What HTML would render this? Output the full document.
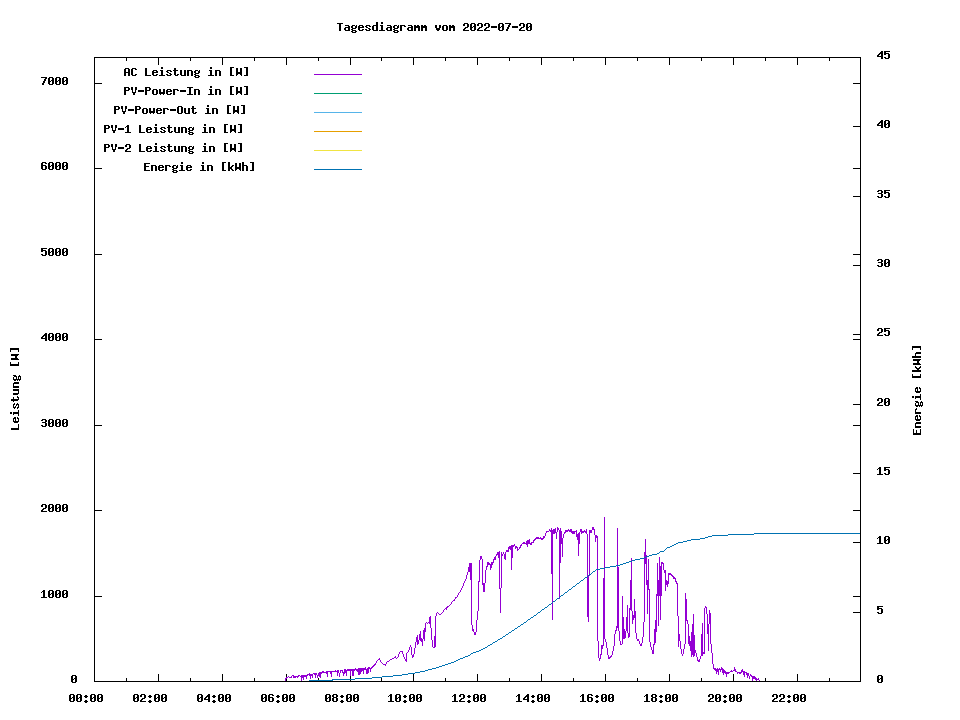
<!DOCTYPE html>
<html><head><meta charset="utf-8"><title>Tagesdiagramm</title>
<style>
html,body{margin:0;padding:0;background:#fff;}
svg{display:block}
</style></head><body>
<svg width="960" height="720" viewBox="0 0 960 720" shape-rendering="crispEdges">
<rect width="960" height="720" fill="#fff"/>
<rect x="94" y="674" width="1" height="8" fill="#000"/>
<rect x="94" y="57" width="1" height="8" fill="#000"/>
<rect x="126" y="678" width="1" height="4" fill="#000"/>
<rect x="126" y="57" width="1" height="4" fill="#000"/>
<rect x="158" y="674" width="1" height="8" fill="#000"/>
<rect x="158" y="57" width="1" height="8" fill="#000"/>
<rect x="190" y="678" width="1" height="4" fill="#000"/>
<rect x="190" y="57" width="1" height="4" fill="#000"/>
<rect x="222" y="674" width="1" height="8" fill="#000"/>
<rect x="222" y="57" width="1" height="8" fill="#000"/>
<rect x="254" y="678" width="1" height="4" fill="#000"/>
<rect x="254" y="57" width="1" height="4" fill="#000"/>
<rect x="286" y="674" width="1" height="8" fill="#000"/>
<rect x="286" y="57" width="1" height="8" fill="#000"/>
<rect x="318" y="678" width="1" height="4" fill="#000"/>
<rect x="318" y="57" width="1" height="4" fill="#000"/>
<rect x="350" y="674" width="1" height="8" fill="#000"/>
<rect x="350" y="57" width="1" height="8" fill="#000"/>
<rect x="381" y="678" width="1" height="4" fill="#000"/>
<rect x="381" y="57" width="1" height="4" fill="#000"/>
<rect x="413" y="674" width="1" height="8" fill="#000"/>
<rect x="413" y="57" width="1" height="8" fill="#000"/>
<rect x="445" y="678" width="1" height="4" fill="#000"/>
<rect x="445" y="57" width="1" height="4" fill="#000"/>
<rect x="477" y="674" width="1" height="8" fill="#000"/>
<rect x="477" y="57" width="1" height="8" fill="#000"/>
<rect x="509" y="678" width="1" height="4" fill="#000"/>
<rect x="509" y="57" width="1" height="4" fill="#000"/>
<rect x="541" y="674" width="1" height="8" fill="#000"/>
<rect x="541" y="57" width="1" height="8" fill="#000"/>
<rect x="573" y="678" width="1" height="4" fill="#000"/>
<rect x="573" y="57" width="1" height="4" fill="#000"/>
<rect x="605" y="674" width="1" height="8" fill="#000"/>
<rect x="605" y="57" width="1" height="8" fill="#000"/>
<rect x="637" y="678" width="1" height="4" fill="#000"/>
<rect x="637" y="57" width="1" height="4" fill="#000"/>
<rect x="669" y="674" width="1" height="8" fill="#000"/>
<rect x="669" y="57" width="1" height="8" fill="#000"/>
<rect x="701" y="678" width="1" height="4" fill="#000"/>
<rect x="701" y="57" width="1" height="4" fill="#000"/>
<rect x="733" y="674" width="1" height="8" fill="#000"/>
<rect x="733" y="57" width="1" height="8" fill="#000"/>
<rect x="765" y="678" width="1" height="4" fill="#000"/>
<rect x="765" y="57" width="1" height="4" fill="#000"/>
<rect x="797" y="674" width="1" height="8" fill="#000"/>
<rect x="797" y="57" width="1" height="8" fill="#000"/>
<rect x="829" y="678" width="1" height="4" fill="#000"/>
<rect x="829" y="57" width="1" height="4" fill="#000"/>
<rect x="94" y="681" width="8" height="1" fill="#000"/>
<rect x="853" y="681" width="8" height="1" fill="#000"/>
<rect x="94" y="596" width="8" height="1" fill="#000"/>
<rect x="853" y="596" width="8" height="1" fill="#000"/>
<rect x="94" y="510" width="8" height="1" fill="#000"/>
<rect x="853" y="510" width="8" height="1" fill="#000"/>
<rect x="94" y="425" width="8" height="1" fill="#000"/>
<rect x="853" y="425" width="8" height="1" fill="#000"/>
<rect x="94" y="339" width="8" height="1" fill="#000"/>
<rect x="853" y="339" width="8" height="1" fill="#000"/>
<rect x="94" y="254" width="8" height="1" fill="#000"/>
<rect x="853" y="254" width="8" height="1" fill="#000"/>
<rect x="94" y="168" width="8" height="1" fill="#000"/>
<rect x="853" y="168" width="8" height="1" fill="#000"/>
<rect x="94" y="83" width="8" height="1" fill="#000"/>
<rect x="853" y="83" width="8" height="1" fill="#000"/>
<rect x="853" y="681" width="8" height="1" fill="#000"/>
<rect x="853" y="612" width="8" height="1" fill="#000"/>
<rect x="853" y="542" width="8" height="1" fill="#000"/>
<rect x="853" y="473" width="8" height="1" fill="#000"/>
<rect x="853" y="404" width="8" height="1" fill="#000"/>
<rect x="853" y="334" width="8" height="1" fill="#000"/>
<rect x="853" y="265" width="8" height="1" fill="#000"/>
<rect x="853" y="196" width="8" height="1" fill="#000"/>
<rect x="853" y="126" width="8" height="1" fill="#000"/>
<rect x="853" y="57" width="8" height="1" fill="#000"/>
<rect x="314" y="74" width="48" height="1" fill="#9400d3"/>
<rect x="314" y="93" width="48" height="1" fill="#009e73"/>
<rect x="314" y="112" width="48" height="1" fill="#56b4e9"/>
<rect x="314" y="131" width="48" height="1" fill="#e69f00"/>
<rect x="314" y="150" width="48" height="1" fill="#f0e442"/>
<rect x="314" y="169" width="48" height="1" fill="#0072b2"/>
<path d="M285 678h1v3h-1zM286 677h1v2h-1zM287 677h1v1h-1zM288 676h1v1h-1zM289 677h2v1h-2zM291 676h1v2h-1zM292 675h1v1h-1zM293 675h1v3h-1zM294 676h2v2h-2zM296 676h1v1h-1zM297 676h1v2h-1zM298 675h1v2h-1zM299 675h1v1h-1zM300 676h1v1h-1zM301 675h1v6h-1zM302 675h1v3h-1zM303 675h1v5h-1zM304 675h2v2h-2zM306 675h1v4h-1zM307 674h1v2h-1zM308 674h1v1h-1zM309 673h1v3h-1zM310 674h1v5h-1zM311 674h1v2h-1zM312 674h1v4h-1zM313 673h1v1h-1zM314 673h1v2h-1zM315 673h1v5h-1zM316 673h1v2h-1zM317 675h1v3h-1zM318 673h1v3h-1zM319 672h1v5h-1zM320 672h1v6h-1zM321 672h1v2h-1zM322 671h2v2h-2zM324 672h2v1h-2zM326 671h1v3h-1zM327 671h1v6h-1zM328 671h2v1h-2zM330 671h1v3h-1zM331 671h1v6h-1zM332 671h3v1h-3zM335 670h1v2h-1zM336 671h1v1h-1zM337 670h1v6h-1zM338 670h1v3h-1zM339 673h1v4h-1zM340 670h1v3h-1zM341 670h1v1h-1zM342 670h1v3h-1zM343 672h1v4h-1zM344 669h1v5h-1zM345 669h1v4h-1zM346 670h1v6h-1zM347 669h3v2h-3zM350 669h1v7h-1zM351 669h1v2h-1zM352 669h2v7h-2zM354 669h1v2h-1zM355 668h1v2h-1zM356 669h1v2h-1zM357 669h1v3h-1zM358 668h2v7h-2zM360 668h1v6h-1zM361 668h1v4h-1zM362 668h1v3h-1zM363 668h1v6h-1zM364 668h1v2h-1zM365 667h1v3h-1zM366 669h1v5h-1zM367 668h1v6h-1zM368 667h1v6h-1zM369 667h1v2h-1zM370 668h1v4h-1zM371 667h1v2h-1zM372 666h1v2h-1zM373 665h1v2h-1zM374 664h1v2h-1zM375 663h1v2h-1zM376 661h1v2h-1zM377 660h1v1h-1zM378 659h1v1h-1zM379 658h1v2h-1zM380 660h1v2h-1zM381 662h1v1h-1zM382 663h1v1h-1zM383 664h2v1h-2zM385 664h1v2h-1zM386 662h1v2h-1zM387 661h2v1h-2zM389 660h1v1h-1zM390 659h2v1h-2zM392 658h2v1h-2zM394 657h1v1h-1zM395 656h1v2h-1zM396 658h1v1h-1zM397 657h1v1h-1zM398 654h1v3h-1zM399 652h1v2h-1zM400 651h2v1h-2zM402 651h1v3h-1zM403 654h1v3h-1zM404 657h1v2h-1zM405 659h1v2h-1zM406 653h1v9h-1zM407 652h1v1h-1zM408 650h1v2h-1zM409 647h1v3h-1zM410 645h1v2h-1zM411 647h1v8h-1zM412 655h1v3h-1zM413 654h1v3h-1zM414 648h1v6h-1zM415 642h1v6h-1zM416 637h1v5h-1zM417 635h1v10h-1zM418 640h1v4h-1zM419 634h1v6h-1zM420 631h1v10h-1zM421 638h1v4h-1zM422 639h1v7h-1zM423 630h1v9h-1zM424 628h1v13h-1zM425 623h1v9h-1zM426 622h1v1h-1zM427 623h1v1h-1zM428 622h1v1h-1zM429 617h1v7h-1zM430 616h1v12h-1zM431 628h1v12h-1zM432 640h1v7h-1zM433 647h1v1h-1zM434 636h1v12h-1zM435 616h1v31h-1zM436 613h1v3h-1zM437 612h1v1h-1zM438 613h1v1h-1zM439 614h2v1h-2zM441 613h1v1h-1zM442 612h1v1h-1zM443 610h1v2h-1zM444 609h1v1h-1zM445 608h1v1h-1zM446 607h1v3h-1zM447 606h1v2h-1zM448 606h1v1h-1zM449 605h1v1h-1zM450 604h1v1h-1zM451 602h1v2h-1zM452 601h1v1h-1zM453 600h1v1h-1zM454 599h1v2h-1zM455 597h1v2h-1zM456 597h1v1h-1zM457 595h1v2h-1zM458 593h1v2h-1zM459 592h1v1h-1zM460 590h1v2h-1zM461 588h1v2h-1zM462 586h1v2h-1zM463 583h1v3h-1zM464 581h1v2h-1zM465 579h1v2h-1zM466 575h1v4h-1zM467 572h1v3h-1zM468 567h1v5h-1zM469 563h1v9h-1zM470 563h1v17h-1zM471 563h1v62h-1zM472 625h1v6h-1zM473 629h1v3h-1zM474 632h2v3h-2zM476 620h1v12h-1zM477 611h1v9h-1zM478 581h1v30h-1zM479 560h1v22h-1zM480 556h1v4h-1zM481 556h1v3h-1zM482 559h1v26h-1zM483 583h2v9h-2zM485 570h1v13h-1zM486 566h1v4h-1zM487 562h1v5h-1zM488 562h1v3h-1zM489 563h1v2h-1zM490 564h1v6h-1zM491 562h1v6h-1zM492 562h1v3h-1zM493 559h1v4h-1zM494 557h1v3h-1zM495 556h1v4h-1zM496 554h1v2h-1zM497 552h1v3h-1zM498 552h1v6h-1zM499 551h1v38h-1zM500 588h1v25h-1zM501 552h1v36h-1zM502 554h1v2h-1zM503 552h1v2h-1zM504 554h1v5h-1zM505 552h1v8h-1zM506 550h2v2h-2zM508 547h1v5h-1zM509 546h1v3h-1zM510 546h1v4h-1zM511 545h1v25h-1zM512 545h1v13h-1zM513 545h1v2h-1zM514 544h1v2h-1zM515 546h1v3h-1zM516 546h1v2h-1zM517 547h1v4h-1zM518 549h1v1h-1zM519 547h1v2h-1zM520 545h1v3h-1zM521 544h1v2h-1zM522 543h1v1h-1zM523 542h2v2h-2zM525 543h1v1h-1zM526 541h1v4h-1zM527 540h1v7h-1zM528 540h1v4h-1zM529 539h1v5h-1zM530 543h1v2h-1zM531 542h1v3h-1zM532 542h1v1h-1zM533 540h1v3h-1zM534 539h1v2h-1zM535 538h1v2h-1zM536 537h3v2h-3zM539 538h1v1h-1zM540 537h1v2h-1zM541 538h2v2h-2zM543 536h1v3h-1zM544 536h1v2h-1zM545 533h1v3h-1zM546 531h1v2h-1zM547 531h2v1h-2zM549 529h1v2h-1zM550 530h1v2h-1zM551 528h1v46h-1zM552 530h1v90h-1zM553 529h2v5h-2zM555 528h1v5h-1zM556 532h1v7h-1zM557 527h1v5h-1zM558 528h1v2h-1zM559 530h1v69h-1zM560 528h1v35h-1zM561 531h1v13h-1zM562 538h1v19h-1zM563 534h1v4h-1zM564 532h1v2h-1zM565 530h1v3h-1zM566 530h2v2h-2zM568 529h1v2h-1zM569 530h1v2h-1zM570 529h1v3h-1zM571 529h1v4h-1zM572 531h3v3h-3zM575 531h1v1h-1zM576 530h1v7h-1zM577 534h1v6h-1zM578 533h1v23h-1zM579 532h1v12h-1zM580 529h1v3h-1zM581 529h1v5h-1zM582 531h2v2h-2zM584 530h1v2h-1zM585 531h1v2h-1zM586 529h1v5h-1zM587 534h1v83h-1zM588 575h1v47h-1zM589 530h1v46h-1zM590 530h2v3h-2zM592 527h2v3h-2zM594 529h1v6h-1zM595 535h1v7h-1zM596 535h1v3h-1zM597 536h1v105h-1zM598 641h1v17h-1zM599 658h1v3h-1zM600 654h1v5h-1zM601 645h1v10h-1zM602 645h1v4h-1zM603 578h1v68h-1zM604 517h1v122h-1zM605 639h1v3h-1zM606 642h1v6h-1zM607 648h1v7h-1zM608 655h1v4h-1zM609 657h1v2h-1zM610 656h1v2h-1zM611 655h1v2h-1zM612 651h1v4h-1zM613 646h1v5h-1zM614 634h1v12h-1zM615 630h1v4h-1zM616 626h1v5h-1zM617 528h1v100h-1zM618 567h1v64h-1zM619 631h1v10h-1zM620 641h1v4h-1zM621 644h1v1h-1zM622 596h1v48h-1zM623 617h1v22h-1zM624 629h1v10h-1zM625 631h1v7h-1zM626 617h1v14h-1zM627 605h1v28h-1zM628 633h1v5h-1zM629 608h1v29h-1zM630 580h1v30h-1zM631 558h1v53h-1zM632 611h1v13h-1zM633 615h1v5h-1zM634 599h1v19h-1zM635 611h1v22h-1zM636 633h1v6h-1zM637 639h2v2h-2zM639 641h1v3h-1zM640 644h1v2h-1zM641 643h1v3h-1zM642 637h1v6h-1zM643 622h1v15h-1zM644 552h1v70h-1zM645 539h1v25h-1zM646 555h1v30h-1zM647 580h1v34h-1zM648 559h1v31h-1zM649 589h1v53h-1zM650 642h1v5h-1zM651 647h1v3h-1zM652 650h1v4h-1zM653 644h1v10h-1zM654 629h1v16h-1zM655 620h1v23h-1zM656 594h1v38h-1zM657 563h1v33h-1zM658 580h1v46h-1zM659 557h1v39h-1zM660 566h1v54h-1zM661 562h1v34h-1zM662 562h1v2h-1zM663 563h1v7h-1zM664 570h1v3h-1zM665 570h1v21h-1zM666 580h1v5h-1zM667 581h1v6h-1zM668 573h1v11h-1zM669 573h2v2h-2zM671 574h1v2h-1zM672 575h1v2h-1zM673 576h1v3h-1zM674 577h1v2h-1zM675 578h1v4h-1zM676 581h1v3h-1zM677 583h1v33h-1zM678 616h1v31h-1zM679 634h1v7h-1zM680 641h1v8h-1zM681 649h1v5h-1zM682 654h1v2h-1zM683 649h1v5h-1zM684 644h1v5h-1zM685 593h1v51h-1zM686 599h1v22h-1zM687 620h1v4h-1zM688 624h1v20h-1zM689 636h1v10h-1zM690 641h1v10h-1zM691 632h1v25h-1zM692 624h1v31h-1zM693 614h1v43h-1zM694 635h1v21h-1zM695 650h1v3h-1zM696 653h1v4h-1zM697 657h1v4h-1zM698 660h1v2h-1zM699 659h1v3h-1zM700 656h1v3h-1zM701 634h1v22h-1zM702 623h1v33h-1zM703 652h1v2h-1zM704 608h1v46h-1zM705 606h1v2h-1zM706 607h1v7h-1zM707 614h1v20h-1zM708 624h1v27h-1zM709 610h1v14h-1zM710 613h1v31h-1zM711 644h1v9h-1zM712 653h1v11h-1zM713 664h1v5h-1zM714 668h1v2h-1zM715 668h1v3h-1zM716 669h1v5h-1zM717 668h1v4h-1zM718 669h1v6h-1zM719 668h1v2h-1zM720 669h1v3h-1zM721 667h1v3h-1zM722 668h1v5h-1zM723 669h1v6h-1zM724 670h1v3h-1zM725 671h1v3h-1zM726 672h1v5h-1zM727 672h2v2h-2zM729 672h1v1h-1zM730 671h1v1h-1zM731 670h1v2h-1zM732 671h1v1h-1zM733 670h1v1h-1zM734 667h1v4h-1zM735 669h1v3h-1zM736 671h1v1h-1zM737 672h1v2h-1zM738 672h1v1h-1zM739 672h2v2h-2zM741 670h1v3h-1zM742 669h1v3h-1zM743 671h1v4h-1zM744 671h1v6h-1zM745 672h1v1h-1zM746 672h1v3h-1zM747 673h1v5h-1zM748 673h1v3h-1zM749 676h1v3h-1zM750 674h1v2h-1zM751 675h1v2h-1zM752 676h1v5h-1zM753 676h2v3h-2zM755 677h1v3h-1zM756 678h1v3h-1zM757 679h1v1h-1zM758 678h1v2h-1zM759 680h1v1h-1z" fill="#9400d3"/>
<path d="M754 533h107v1h-107zM728 534h26v1h-26zM712 535h16v1h-16zM708 536h4v1h-4zM705 537h3v1h-3zM700 538h5v1h-5zM691 539h9v1h-9zM687 540h4v1h-4zM683 541h4v1h-4zM678 542h5v1h-5zM676 543h2v1h-2zM674 544h2v1h-2zM672 545h2v1h-2zM670 546h2v1h-2zM667 547h3v1h-3zM666 548h1v1h-1zM665 549h1v1h-1zM664 550h1v1h-1zM660 551h4v1h-4zM659 552h1v1h-1zM657 553h2v1h-2zM652 554h5v1h-5zM649 555h3v1h-3zM646 556h3v1h-3zM644 557h2v1h-2zM640 558h4v1h-4zM635 559h5v1h-5zM632 560h3v1h-3zM629 561h3v1h-3zM626 562h3v1h-3zM623 563h3v1h-3zM620 564h3v1h-3zM616 565h4v1h-4zM610 566h6v1h-6zM605 567h5v1h-5zM600 568h5v1h-5zM596 569h4v1h-4zM595 570h1v1h-1zM593 571h2v1h-2zM592 572h1v1h-1zM591 573h1v1h-1zM589 574h2v1h-2zM588 575h1v1h-1zM587 576h1v1h-1zM585 577h2v1h-2zM584 578h1v1h-1zM583 579h1v1h-1zM581 580h2v1h-2zM580 581h1v1h-1zM579 582h1v1h-1zM577 583h2v1h-2zM576 584h1v1h-1zM575 585h1v1h-1zM573 586h2v1h-2zM572 587h1v1h-1zM571 588h1v1h-1zM569 589h2v1h-2zM568 590h1v1h-1zM567 591h1v1h-1zM565 592h2v1h-2zM564 593h1v1h-1zM563 594h1v1h-1zM561 595h2v1h-2zM560 596h1v1h-1zM559 597h1v1h-1zM557 598h2v1h-2zM556 599h1v1h-1zM555 600h1v1h-1zM553 601h2v1h-2zM552 602h1v1h-1zM551 603h1v1h-1zM549 604h2v1h-2zM548 605h1v1h-1zM547 606h1v1h-1zM545 607h2v1h-2zM544 608h1v1h-1zM542 609h2v1h-2zM541 610h1v1h-1zM540 611h1v1h-1zM538 612h2v1h-2zM537 613h1v1h-1zM536 614h1v1h-1zM534 615h2v1h-2zM533 616h1v1h-1zM531 617h2v1h-2zM530 618h1v1h-1zM528 619h2v1h-2zM527 620h1v1h-1zM526 621h1v1h-1zM524 622h2v1h-2zM523 623h1v1h-1zM521 624h2v1h-2zM520 625h1v1h-1zM518 626h2v1h-2zM517 627h1v1h-1zM515 628h2v1h-2zM514 629h1v1h-1zM512 630h2v1h-2zM511 631h1v1h-1zM509 632h2v1h-2zM508 633h1v1h-1zM506 634h2v1h-2zM505 635h1v1h-1zM503 636h2v1h-2zM502 637h1v1h-1zM500 638h2v1h-2zM498 639h2v1h-2zM497 640h1v1h-1zM495 641h2v1h-2zM493 642h2v1h-2zM492 643h1v1h-1zM490 644h2v1h-2zM488 645h2v1h-2zM487 646h1v1h-1zM485 647h2v1h-2zM483 648h2v1h-2zM481 649h2v1h-2zM479 650h2v1h-2zM476 651h3v1h-3zM473 652h3v1h-3zM471 653h2v1h-2zM470 654h1v1h-1zM468 655h2v1h-2zM465 656h3v1h-3zM463 657h2v1h-2zM460 658h3v1h-3zM458 659h2v1h-2zM456 660h2v1h-2zM454 661h2v1h-2zM451 662h3v1h-3zM448 663h3v1h-3zM445 664h3v1h-3zM442 665h3v1h-3zM439 666h3v1h-3zM436 667h3v1h-3zM432 668h4v1h-4zM428 669h4v1h-4zM425 670h3v1h-3zM420 671h5v1h-5zM415 672h5v1h-5zM408 673h7v1h-7zM402 674h6v1h-6zM393 675h9v1h-9zM382 676h11v1h-11zM372 677h10v1h-10zM355 678h17v1h-17zM332 679h23v1h-23zM309 680h24v1h-24z" fill="#0072b2"/>
<rect x="94" y="57" width="767" height="1" fill="#000"/>
<rect x="94" y="681" width="767" height="1" fill="#000"/>
<rect x="94" y="57" width="1" height="625" fill="#000"/>
<rect x="860" y="57" width="1" height="625" fill="#000"/>
<defs><path id="g45" d="M0 6h6v1h-6zM0 7h6v1h-6z"/><path id="g48" d="M1 3h4v1h-4zM0 4h2v1h-2zM4 4h2v1h-2zM0 5h2v1h-2zM4 5h2v1h-2zM0 6h2v1h-2zM3 6h3v1h-3zM0 7h3v1h-3zM4 7h2v1h-2zM0 8h2v1h-2zM4 8h2v1h-2zM0 9h2v1h-2zM4 9h2v1h-2zM1 10h4v1h-4z"/><path id="g49" d="M2 3h2v1h-2zM1 4h3v1h-3zM0 5h1v1h-1zM2 5h2v1h-2zM2 6h2v1h-2zM2 7h2v1h-2zM2 8h2v1h-2zM2 9h2v1h-2zM0 10h6v1h-6z"/><path id="g50" d="M1 3h4v1h-4zM0 4h2v1h-2zM4 4h2v1h-2zM0 5h2v1h-2zM4 5h2v1h-2zM4 6h2v1h-2zM2 7h3v1h-3zM1 8h2v1h-2zM0 9h2v1h-2zM0 10h6v1h-6z"/><path id="g51" d="M1 3h4v1h-4zM0 4h2v1h-2zM4 4h2v1h-2zM4 5h2v1h-2zM1 6h4v1h-4zM4 7h2v1h-2zM4 8h2v1h-2zM0 9h2v1h-2zM4 9h2v1h-2zM1 10h4v1h-4z"/><path id="g52" d="M4 3h2v1h-2zM3 4h3v1h-3zM2 5h4v1h-4zM1 6h2v1h-2zM4 6h2v1h-2zM0 7h2v1h-2zM4 7h2v1h-2zM0 8h6v1h-6zM4 9h2v1h-2zM4 10h2v1h-2z"/><path id="g53" d="M0 3h6v1h-6zM0 4h2v1h-2zM0 5h5v1h-5zM0 6h2v1h-2zM4 6h2v1h-2zM4 7h2v1h-2zM4 8h2v1h-2zM0 9h2v1h-2zM4 9h2v1h-2zM1 10h4v1h-4z"/><path id="g54" d="M1 3h4v1h-4zM0 4h2v1h-2zM4 4h2v1h-2zM0 5h2v1h-2zM0 6h5v1h-5zM0 7h2v1h-2zM4 7h2v1h-2zM0 8h2v1h-2zM4 8h2v1h-2zM0 9h2v1h-2zM4 9h2v1h-2zM1 10h4v1h-4z"/><path id="g55" d="M0 3h6v1h-6zM4 4h2v1h-2zM3 5h2v1h-2zM3 6h2v1h-2zM2 7h2v1h-2zM2 8h2v1h-2zM1 9h2v1h-2zM1 10h2v1h-2z"/><path id="g56" d="M1 3h4v1h-4zM0 4h2v1h-2zM4 4h2v1h-2zM0 5h2v1h-2zM4 5h2v1h-2zM1 6h4v1h-4zM0 7h2v1h-2zM4 7h2v1h-2zM0 8h2v1h-2zM4 8h2v1h-2zM0 9h2v1h-2zM4 9h2v1h-2zM1 10h4v1h-4z"/><path id="g58" d="M2 4h2v1h-2zM1 5h4v1h-4zM2 6h2v1h-2zM2 9h2v1h-2zM1 10h4v1h-4zM2 11h2v1h-2z"/><path id="g65" d="M1 3h4v1h-4zM0 4h2v1h-2zM4 4h2v1h-2zM0 5h2v1h-2zM4 5h2v1h-2zM0 6h2v1h-2zM4 6h2v1h-2zM0 7h6v1h-6zM0 8h2v1h-2zM4 8h2v1h-2zM0 9h2v1h-2zM4 9h2v1h-2zM0 10h2v1h-2zM4 10h2v1h-2z"/><path id="g67" d="M1 3h4v1h-4zM0 4h2v1h-2zM4 4h2v1h-2zM0 5h2v1h-2zM0 6h2v1h-2zM0 7h2v1h-2zM0 8h2v1h-2zM0 9h2v1h-2zM4 9h2v1h-2zM1 10h4v1h-4z"/><path id="g69" d="M0 3h6v1h-6zM0 4h2v1h-2zM0 5h2v1h-2zM0 6h5v1h-5zM0 7h2v1h-2zM0 8h2v1h-2zM0 9h2v1h-2zM0 10h6v1h-6z"/><path id="g73" d="M0 3h6v1h-6zM2 4h2v1h-2zM2 5h2v1h-2zM2 6h2v1h-2zM2 7h2v1h-2zM2 8h2v1h-2zM2 9h2v1h-2zM0 10h6v1h-6z"/><path id="g76" d="M0 3h2v1h-2zM0 4h2v1h-2zM0 5h2v1h-2zM0 6h2v1h-2zM0 7h2v1h-2zM0 8h2v1h-2zM0 9h2v1h-2zM0 10h6v1h-6z"/><path id="g79" d="M1 3h4v1h-4zM0 4h2v1h-2zM4 4h2v1h-2zM0 5h2v1h-2zM4 5h2v1h-2zM0 6h2v1h-2zM4 6h2v1h-2zM0 7h2v1h-2zM4 7h2v1h-2zM0 8h2v1h-2zM4 8h2v1h-2zM0 9h2v1h-2zM4 9h2v1h-2zM1 10h4v1h-4z"/><path id="g80" d="M0 3h5v1h-5zM0 4h2v1h-2zM4 4h2v1h-2zM0 5h2v1h-2zM4 5h2v1h-2zM0 6h5v1h-5zM0 7h2v1h-2zM0 8h2v1h-2zM0 9h2v1h-2zM0 10h2v1h-2z"/><path id="g84" d="M0 3h6v1h-6zM2 4h2v1h-2zM2 5h2v1h-2zM2 6h2v1h-2zM2 7h2v1h-2zM2 8h2v1h-2zM2 9h2v1h-2zM2 10h2v1h-2z"/><path id="g86" d="M0 3h2v1h-2zM4 3h2v1h-2zM0 4h2v1h-2zM4 4h2v1h-2zM0 5h2v1h-2zM4 5h2v1h-2zM1 6h1v1h-1zM4 6h1v1h-1zM1 7h1v1h-1zM4 7h1v1h-1zM1 8h4v1h-4zM2 9h2v1h-2zM2 10h2v1h-2z"/><path id="g87" d="M0 3h2v1h-2zM4 3h2v1h-2zM0 4h2v1h-2zM4 4h2v1h-2zM0 5h2v1h-2zM4 5h2v1h-2zM0 6h2v1h-2zM4 6h2v1h-2zM0 7h6v1h-6zM0 8h6v1h-6zM0 9h2v1h-2zM4 9h2v1h-2zM0 10h1v1h-1zM5 10h1v1h-1z"/><path id="g91" d="M1 2h4v1h-4zM1 3h2v1h-2zM1 4h2v1h-2zM1 5h2v1h-2zM1 6h2v1h-2zM1 7h2v1h-2zM1 8h2v1h-2zM1 9h2v1h-2zM1 10h4v1h-4z"/><path id="g93" d="M1 2h4v1h-4zM3 3h2v1h-2zM3 4h2v1h-2zM3 5h2v1h-2zM3 6h2v1h-2zM3 7h2v1h-2zM3 8h2v1h-2zM3 9h2v1h-2zM1 10h4v1h-4z"/><path id="g97" d="M1 5h4v1h-4zM4 6h2v1h-2zM1 7h5v1h-5zM0 8h2v1h-2zM4 8h2v1h-2zM0 9h2v1h-2zM4 9h2v1h-2zM1 10h5v1h-5z"/><path id="g100" d="M4 2h2v1h-2zM4 3h2v1h-2zM4 4h2v1h-2zM1 5h5v1h-5zM0 6h2v1h-2zM4 6h2v1h-2zM0 7h2v1h-2zM4 7h2v1h-2zM0 8h2v1h-2zM4 8h2v1h-2zM0 9h2v1h-2zM4 9h2v1h-2zM1 10h5v1h-5z"/><path id="g101" d="M1 5h4v1h-4zM0 6h2v1h-2zM4 6h2v1h-2zM0 7h6v1h-6zM0 8h2v1h-2zM0 9h2v1h-2zM4 9h2v1h-2zM1 10h4v1h-4z"/><path id="g103" d="M1 5h3v1h-3zM5 5h1v1h-1zM0 6h2v1h-2zM4 6h2v1h-2zM0 7h2v1h-2zM4 7h2v1h-2zM1 8h4v1h-4zM0 9h2v1h-2zM1 10h4v1h-4zM0 11h2v1h-2zM4 11h2v1h-2zM1 12h4v1h-4z"/><path id="g104" d="M0 2h2v1h-2zM0 3h2v1h-2zM0 4h2v1h-2zM0 5h5v1h-5zM0 6h2v1h-2zM4 6h2v1h-2zM0 7h2v1h-2zM4 7h2v1h-2zM0 8h2v1h-2zM4 8h2v1h-2zM0 9h2v1h-2zM4 9h2v1h-2zM0 10h2v1h-2zM4 10h2v1h-2z"/><path id="g105" d="M2 2h2v1h-2zM2 3h2v1h-2zM1 5h3v1h-3zM2 6h2v1h-2zM2 7h2v1h-2zM2 8h2v1h-2zM2 9h2v1h-2zM0 10h6v1h-6z"/><path id="g107" d="M0 2h2v1h-2zM0 3h2v1h-2zM0 4h2v1h-2zM0 5h2v1h-2zM4 5h2v1h-2zM0 6h2v1h-2zM3 6h2v1h-2zM0 7h4v1h-4zM0 8h4v1h-4zM0 9h2v1h-2zM3 9h2v1h-2zM0 10h2v1h-2zM4 10h2v1h-2z"/><path id="g109" d="M0 5h2v1h-2zM3 5h2v1h-2zM0 6h6v1h-6zM0 7h6v1h-6zM0 8h2v1h-2zM4 8h2v1h-2zM0 9h2v1h-2zM4 9h2v1h-2zM0 10h2v1h-2zM4 10h2v1h-2z"/><path id="g110" d="M0 5h5v1h-5zM0 6h2v1h-2zM4 6h2v1h-2zM0 7h2v1h-2zM4 7h2v1h-2zM0 8h2v1h-2zM4 8h2v1h-2zM0 9h2v1h-2zM4 9h2v1h-2zM0 10h2v1h-2zM4 10h2v1h-2z"/><path id="g111" d="M1 5h4v1h-4zM0 6h2v1h-2zM4 6h2v1h-2zM0 7h2v1h-2zM4 7h2v1h-2zM0 8h2v1h-2zM4 8h2v1h-2zM0 9h2v1h-2zM4 9h2v1h-2zM1 10h4v1h-4z"/><path id="g114" d="M0 5h5v1h-5zM0 6h2v1h-2zM4 6h2v1h-2zM0 7h2v1h-2zM0 8h2v1h-2zM0 9h2v1h-2zM0 10h2v1h-2z"/><path id="g115" d="M1 5h4v1h-4zM0 6h2v1h-2zM4 6h2v1h-2zM1 7h2v1h-2zM3 8h2v1h-2zM0 9h2v1h-2zM4 9h2v1h-2zM1 10h4v1h-4z"/><path id="g116" d="M1 3h2v1h-2zM1 4h2v1h-2zM0 5h5v1h-5zM1 6h2v1h-2zM1 7h2v1h-2zM1 8h2v1h-2zM1 9h2v1h-2zM4 9h2v1h-2zM2 10h3v1h-3z"/><path id="g117" d="M0 5h2v1h-2zM4 5h2v1h-2zM0 6h2v1h-2zM4 6h2v1h-2zM0 7h2v1h-2zM4 7h2v1h-2zM0 8h2v1h-2zM4 8h2v1h-2zM0 9h2v1h-2zM4 9h2v1h-2zM1 10h5v1h-5z"/><path id="g118" d="M0 5h2v1h-2zM4 5h2v1h-2zM0 6h2v1h-2zM4 6h2v1h-2zM0 7h2v1h-2zM4 7h2v1h-2zM1 8h4v1h-4zM1 9h4v1h-4zM2 10h2v1h-2z"/><path id="g119" d="M0 5h2v1h-2zM4 5h2v1h-2zM0 6h2v1h-2zM4 6h2v1h-2zM0 7h2v1h-2zM4 7h2v1h-2zM0 8h6v1h-6zM0 9h6v1h-6zM1 10h1v1h-1zM4 10h1v1h-1z"/></defs>
<g fill="#000">
<g transform="translate(337,20)"><use href="#g84" x="0"/><use href="#g97" x="7"/><use href="#g103" x="14"/><use href="#g101" x="21"/><use href="#g115" x="28"/><use href="#g100" x="35"/><use href="#g105" x="42"/><use href="#g97" x="49"/><use href="#g103" x="56"/><use href="#g114" x="63"/><use href="#g97" x="70"/><use href="#g109" x="77"/><use href="#g109" x="84"/><use href="#g118" x="98"/><use href="#g111" x="105"/><use href="#g109" x="112"/><use href="#g50" x="126"/><use href="#g48" x="133"/><use href="#g50" x="140"/><use href="#g50" x="147"/><use href="#g45" x="154"/><use href="#g48" x="161"/><use href="#g55" x="168"/><use href="#g45" x="175"/><use href="#g50" x="182"/><use href="#g48" x="189"/></g>
<g transform="translate(124,65)"><use href="#g65" x="0"/><use href="#g67" x="7"/><use href="#g76" x="21"/><use href="#g101" x="28"/><use href="#g105" x="35"/><use href="#g115" x="42"/><use href="#g116" x="49"/><use href="#g117" x="56"/><use href="#g110" x="63"/><use href="#g103" x="70"/><use href="#g105" x="84"/><use href="#g110" x="91"/><use href="#g91" x="105"/><use href="#g87" x="112"/><use href="#g93" x="119"/></g>
<g transform="translate(124,84)"><use href="#g80" x="0"/><use href="#g86" x="7"/><use href="#g45" x="14"/><use href="#g80" x="21"/><use href="#g111" x="28"/><use href="#g119" x="35"/><use href="#g101" x="42"/><use href="#g114" x="49"/><use href="#g45" x="56"/><use href="#g73" x="63"/><use href="#g110" x="70"/><use href="#g105" x="84"/><use href="#g110" x="91"/><use href="#g91" x="105"/><use href="#g87" x="112"/><use href="#g93" x="119"/></g>
<g transform="translate(114,103)"><use href="#g80" x="0"/><use href="#g86" x="7"/><use href="#g45" x="14"/><use href="#g80" x="21"/><use href="#g111" x="28"/><use href="#g119" x="35"/><use href="#g101" x="42"/><use href="#g114" x="49"/><use href="#g45" x="56"/><use href="#g79" x="63"/><use href="#g117" x="70"/><use href="#g116" x="77"/><use href="#g105" x="91"/><use href="#g110" x="98"/><use href="#g91" x="112"/><use href="#g87" x="119"/><use href="#g93" x="126"/></g>
<g transform="translate(104,122)"><use href="#g80" x="0"/><use href="#g86" x="7"/><use href="#g45" x="14"/><use href="#g49" x="21"/><use href="#g76" x="35"/><use href="#g101" x="42"/><use href="#g105" x="49"/><use href="#g115" x="56"/><use href="#g116" x="63"/><use href="#g117" x="70"/><use href="#g110" x="77"/><use href="#g103" x="84"/><use href="#g105" x="98"/><use href="#g110" x="105"/><use href="#g91" x="119"/><use href="#g87" x="126"/><use href="#g93" x="133"/></g>
<g transform="translate(104,141)"><use href="#g80" x="0"/><use href="#g86" x="7"/><use href="#g45" x="14"/><use href="#g50" x="21"/><use href="#g76" x="35"/><use href="#g101" x="42"/><use href="#g105" x="49"/><use href="#g115" x="56"/><use href="#g116" x="63"/><use href="#g117" x="70"/><use href="#g110" x="77"/><use href="#g103" x="84"/><use href="#g105" x="98"/><use href="#g110" x="105"/><use href="#g91" x="119"/><use href="#g87" x="126"/><use href="#g93" x="133"/></g>
<g transform="translate(144,160)"><use href="#g69" x="0"/><use href="#g110" x="7"/><use href="#g101" x="14"/><use href="#g114" x="21"/><use href="#g103" x="28"/><use href="#g105" x="35"/><use href="#g101" x="42"/><use href="#g105" x="56"/><use href="#g110" x="63"/><use href="#g91" x="77"/><use href="#g107" x="84"/><use href="#g87" x="91"/><use href="#g104" x="98"/><use href="#g93" x="105"/></g>
<g transform="translate(71,672)"><use href="#g48" x="0"/></g>
<g transform="translate(41,587)"><use href="#g49" x="0"/><use href="#g48" x="7"/><use href="#g48" x="14"/><use href="#g48" x="21"/></g>
<g transform="translate(41,501)"><use href="#g50" x="0"/><use href="#g48" x="7"/><use href="#g48" x="14"/><use href="#g48" x="21"/></g>
<g transform="translate(41,416)"><use href="#g51" x="0"/><use href="#g48" x="7"/><use href="#g48" x="14"/><use href="#g48" x="21"/></g>
<g transform="translate(41,330)"><use href="#g52" x="0"/><use href="#g48" x="7"/><use href="#g48" x="14"/><use href="#g48" x="21"/></g>
<g transform="translate(41,245)"><use href="#g53" x="0"/><use href="#g48" x="7"/><use href="#g48" x="14"/><use href="#g48" x="21"/></g>
<g transform="translate(41,159)"><use href="#g54" x="0"/><use href="#g48" x="7"/><use href="#g48" x="14"/><use href="#g48" x="21"/></g>
<g transform="translate(41,74)"><use href="#g55" x="0"/><use href="#g48" x="7"/><use href="#g48" x="14"/><use href="#g48" x="21"/></g>
<g transform="translate(877,672)"><use href="#g48" x="0"/></g>
<g transform="translate(877,603)"><use href="#g53" x="0"/></g>
<g transform="translate(877,533)"><use href="#g49" x="0"/><use href="#g48" x="7"/></g>
<g transform="translate(877,464)"><use href="#g49" x="0"/><use href="#g53" x="7"/></g>
<g transform="translate(877,395)"><use href="#g50" x="0"/><use href="#g48" x="7"/></g>
<g transform="translate(877,325)"><use href="#g50" x="0"/><use href="#g53" x="7"/></g>
<g transform="translate(877,256)"><use href="#g51" x="0"/><use href="#g48" x="7"/></g>
<g transform="translate(877,187)"><use href="#g51" x="0"/><use href="#g53" x="7"/></g>
<g transform="translate(877,117)"><use href="#g52" x="0"/><use href="#g48" x="7"/></g>
<g transform="translate(877,48)"><use href="#g52" x="0"/><use href="#g53" x="7"/></g>
<g transform="translate(69,691)"><use href="#g48" x="0"/><use href="#g48" x="7"/><use href="#g58" x="14"/><use href="#g48" x="21"/><use href="#g48" x="28"/></g>
<g transform="translate(133,691)"><use href="#g48" x="0"/><use href="#g50" x="7"/><use href="#g58" x="14"/><use href="#g48" x="21"/><use href="#g48" x="28"/></g>
<g transform="translate(197,691)"><use href="#g48" x="0"/><use href="#g52" x="7"/><use href="#g58" x="14"/><use href="#g48" x="21"/><use href="#g48" x="28"/></g>
<g transform="translate(261,691)"><use href="#g48" x="0"/><use href="#g54" x="7"/><use href="#g58" x="14"/><use href="#g48" x="21"/><use href="#g48" x="28"/></g>
<g transform="translate(325,691)"><use href="#g48" x="0"/><use href="#g56" x="7"/><use href="#g58" x="14"/><use href="#g48" x="21"/><use href="#g48" x="28"/></g>
<g transform="translate(388,691)"><use href="#g49" x="0"/><use href="#g48" x="7"/><use href="#g58" x="14"/><use href="#g48" x="21"/><use href="#g48" x="28"/></g>
<g transform="translate(452,691)"><use href="#g49" x="0"/><use href="#g50" x="7"/><use href="#g58" x="14"/><use href="#g48" x="21"/><use href="#g48" x="28"/></g>
<g transform="translate(516,691)"><use href="#g49" x="0"/><use href="#g52" x="7"/><use href="#g58" x="14"/><use href="#g48" x="21"/><use href="#g48" x="28"/></g>
<g transform="translate(580,691)"><use href="#g49" x="0"/><use href="#g54" x="7"/><use href="#g58" x="14"/><use href="#g48" x="21"/><use href="#g48" x="28"/></g>
<g transform="translate(644,691)"><use href="#g49" x="0"/><use href="#g56" x="7"/><use href="#g58" x="14"/><use href="#g48" x="21"/><use href="#g48" x="28"/></g>
<g transform="translate(708,691)"><use href="#g50" x="0"/><use href="#g48" x="7"/><use href="#g58" x="14"/><use href="#g48" x="21"/><use href="#g48" x="28"/></g>
<g transform="translate(772,691)"><use href="#g50" x="0"/><use href="#g50" x="7"/><use href="#g58" x="14"/><use href="#g48" x="21"/><use href="#g48" x="28"/></g>
<g transform="translate(8,430) rotate(-90)"><use href="#g76" x="0"/><use href="#g101" x="7"/><use href="#g105" x="14"/><use href="#g115" x="21"/><use href="#g116" x="28"/><use href="#g117" x="35"/><use href="#g110" x="42"/><use href="#g103" x="49"/><use href="#g91" x="63"/><use href="#g87" x="70"/><use href="#g93" x="77"/></g>
<g transform="translate(910,435) rotate(-90)"><use href="#g69" x="0"/><use href="#g110" x="7"/><use href="#g101" x="14"/><use href="#g114" x="21"/><use href="#g103" x="28"/><use href="#g105" x="35"/><use href="#g101" x="42"/><use href="#g91" x="56"/><use href="#g107" x="63"/><use href="#g87" x="70"/><use href="#g104" x="77"/><use href="#g93" x="84"/></g>
</g>
</svg>
</body></html>
